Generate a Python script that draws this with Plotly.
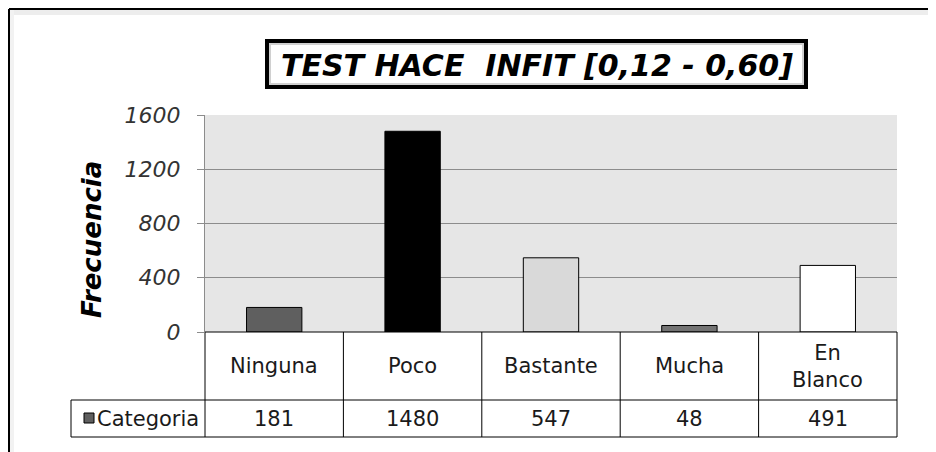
import plotly.graph_objects as go

# data
categories = ["Ninguna", "Poco", "Bastante", "Mucha", "En Blanco"]
category_labels = ["Ninguna", "Poco", "Bastante", "Mucha", "En<br>Blanco"]
frequencies = [181, 1480, 547, 48, 491]
series_name = "Categoria"
y_ticks = [0, 400, 800, 1200, 1600]

bar_colors = ["#5f5f5f", "#000000", "#d9d9d9", "#737373", "#ffffff"]
FONT = "DejaVu Sans"

# page is 936x452, the html body adds an 8px margin
PAGE_W, PAGE_H, OFF = 936, 452, 8
L, R, T, B = 205, 897, 115, 332  # plot area, page pixels


def px_x(x):
    return (x - L) / (R - L)


def px_y(y):
    return (B - y) / (B - T)


fig = go.Figure(
    go.Bar(
        x=categories,
        y=frequencies,
        name=series_name,
        marker=dict(color=bar_colors, line=dict(color="black", width=1)),
        showlegend=False,
    )
)

shapes = []
black = dict(color="black", width=1)


def rect(x0, y0, x1, y1, **kw):
    d = dict(type="rect", xref="paper", yref="paper",
             x0=px_x(x0), x1=px_x(x1), y0=px_y(y0), y1=px_y(y1))
    d.update(kw)
    shapes.append(d)


def seg(x0, y0, x1, y1, line=black):
    shapes.append(dict(type="line", xref="paper", yref="paper",
                       x0=px_x(x0), x1=px_x(x1), y0=px_y(y0), y1=px_y(y1),
                       line=line, layer="above"))


# outer frame (only top/left edges visible) with a soft shadow
rect(10, 9, 936, 15, fillcolor="#ededed", line=dict(width=0), layer="below")
rect(10, 9, 14, 452, fillcolor="#f2f2f2", line=dict(width=0), layer="below")
seg(9, 9, 936, 9, dict(color="black", width=2))
seg(9, 9, 9, 452, dict(color="black", width=2))

# title box
rect(267, 41, 806, 87, fillcolor="white", line=dict(color="black", width=4), layer="above")
rect(270, 44, 803, 84, fillcolor="rgba(0,0,0,0)", line=dict(color="#d0d0d0", width=2), layer="above")

# data table
row1, row2, row3 = 332, 400, 437
seg(L, row1, R, row1)
seg(71, row2, R, row2)
seg(71, row3, R, row3)
seg(71, row2, 71, row3)
n = len(categories)
for i in range(n + 1):
    xp = L + (R - L) * i / n
    seg(xp, row1, xp, row3)

# legend key in the table
rect(84, 413, 94, 423, fillcolor=bar_colors[0], line=dict(color="black", width=1), layer="above")

cell_font = dict(family=FONT, size=21, color="#1a1a1a")
annotations = [
    dict(text="<b><i>TEST HACE  INFIT [0,12 - 0,60]</i></b>", xref="paper", yref="paper",
         x=px_x(537), y=px_y(66), showarrow=False, xanchor="center", yanchor="middle",
         font=dict(family=FONT, size=30, color="black")),
    dict(text="<b><i>Frecuencia</i></b>", xref="paper", yref="paper",
         x=px_x(92), y=px_y(240), showarrow=False, textangle=-90,
         xanchor="center", yanchor="middle",
         font=dict(family=FONT, size=26, color="black")),
    dict(text=series_name, xref="paper", yref="paper",
         x=px_x(95), y=px_y((row2 + row3) / 2), showarrow=False,
         xanchor="left", yanchor="middle", font=cell_font),
]
for cat, lab, val in zip(categories, category_labels, frequencies):
    annotations.append(dict(text=lab, x=cat, xref="x", yref="paper",
                            y=px_y((row1 + row2) / 2), showarrow=False,
                            xanchor="center", yanchor="middle", font=cell_font))
    annotations.append(dict(text=str(val), x=cat, xref="x", yref="paper",
                            y=px_y((row2 + row3) / 2), showarrow=False,
                            xanchor="center", yanchor="middle", font=cell_font))

fig.update_layout(
    width=PAGE_W - OFF, height=PAGE_H - OFF, autosize=False,
    margin=dict(l=L - OFF, r=PAGE_W - R, t=T - OFF, b=PAGE_H - B, pad=0),
    paper_bgcolor="white", plot_bgcolor="#e6e6e6",
    bargap=0.6,
    shapes=shapes, annotations=annotations,
    font=dict(family=FONT),
)
fig.update_xaxes(showticklabels=False, ticks="", showgrid=False, showline=False,
                 zeroline=False, range=[-0.5, n - 0.5])
fig.update_yaxes(range=[0, 1600], tickvals=y_ticks, showgrid=True, gridcolor="#8c8c8c",
                 gridwidth=1, ticks="outside", ticklen=7, tickcolor="#8c8c8c",
                 showline=True, linecolor="#8c8c8c", zeroline=False,
                 ticklabelstandoff=12,
                 tickfont=dict(family=FONT, size=22, style="italic", color="#333"))

fig.write_html("out.html")
